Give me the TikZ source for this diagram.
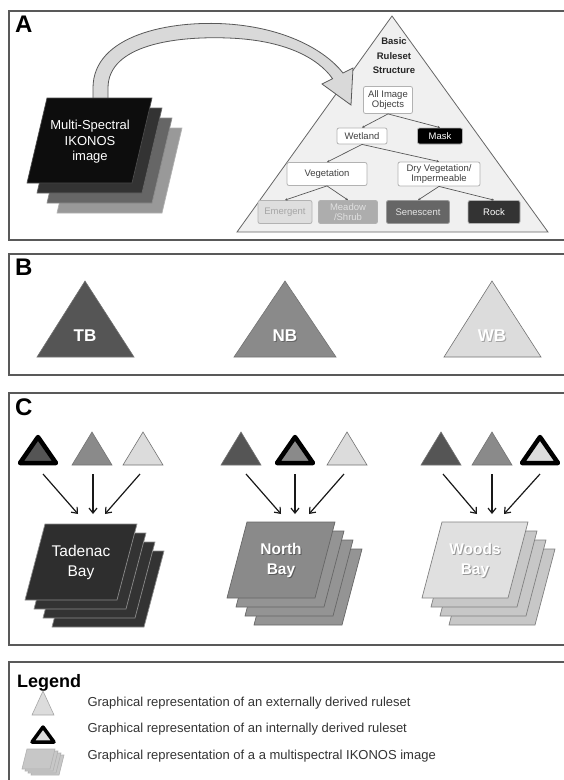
\documentclass[tikz,border=0pt]{standalone}
\usepackage{fontspec}
\setmainfont{Liberation Sans}
\usetikzlibrary{arrows.meta}
\definecolor{tdark}{HTML}{555555}
\definecolor{tmid}{HTML}{8A8A8A}
\definecolor{tlight}{HTML}{DCDCDC}
\newcommand\mypara[7]{\draw[fill=#6, draw=#7, line width=0.7pt] (#1,#2) -- ++(#3,0) -- ++(-#5,#4) -- ++(-#3,0) -- cycle;}
\begin{document}
\begin{tikzpicture}[x=1pt,y=-1pt]
\useasboundingbox (0,0) rectangle (564,780);
\clip (0,0) rectangle (564,780);
\tikzset{
 panel/.style={draw=black!65, line width=1.3pt},
 plabel/.style={font=\fontsize{24}{24}\selectfont\bfseries, anchor=north west, inner sep=0pt},
 tbox/.style={draw=black!30, rounded corners=2pt, fill=white, line width=0.8pt, font=\fontsize{9.5}{10.5}\selectfont, text=black!75, align=center, inner sep=1pt},
 tline/.style={draw=black!65, line width=0.7pt, -{Stealth[length=2.5pt,width=2.5pt]}},
 rtri/.style={draw=black!55, line width=0.6pt},
 inttri/.style={draw=black, line width=4.5pt, line join=round},
 carrow/.style={draw=black!90, line width=1.2pt, -{Straight Barb[length=5pt,width=8pt]}},
 btext/.style={font=\fontsize{17}{17}\selectfont\bfseries, text=white},
 stext/.style={font=\fontsize{15.5}{20}\selectfont, text=white, align=center},
 sbtext/.style={font=\fontsize{15.5}{20}\selectfont\bfseries, text=white, align=center},
 ltext/.style={font=\fontsize{13}{15}\selectfont, text=black!80, anchor=west}
}
% ---------------- Panel A
\draw[panel] (9,11) rectangle (580,240);
\node[plabel] (la) at (15,16) {A};
\draw[draw=black!60, fill=black!6, line width=0.8pt] (392,16) -- (548,232) -- (237,232) -- cycle;
\node[font=\fontsize{9.5}{14.5}\selectfont\bfseries, align=center, text=black!85] (title) at (394,56) {Basic\\Ruleset\\Structure};
\node[tbox, minimum width=49pt, minimum height=27pt] (all) at (388,100) {All Image\\Objects};
\node[tbox, minimum width=50pt, minimum height=16pt] (wet) at (362,136) {Wetland};
\node[tbox, minimum width=45pt, minimum height=16pt, fill=black, text=white] (mask) at (440,136) {Mask};
\node[tbox, minimum width=80pt, minimum height=23pt] (veg) at (327,174) {Vegetation};
\node[tbox, minimum width=82pt, minimum height=24pt] (dry) at (439,174) {Dry Vegetation/\\Impermeable};
\node[tbox, minimum width=54pt, minimum height=23pt, fill=black!13, text=black!35] (emer) at (285,212) {Emergent};
\node[tbox, minimum width=59pt, minimum height=23pt, fill=black!32, text=black!12] (mead) at (348,212) {Meadow\\/Shrub};
\node[tbox, minimum width=63pt, minimum height=23pt, fill=black!60, text=black!10, draw=black!40] (sen) at (418,212) {Senescent};
\node[tbox, minimum width=52pt, minimum height=23pt, fill=black!80, text=white] (rock) at (494,212) {Rock};
\draw[tline] (all.south) -- (wet.north);
\draw[tline] (all.south) -- (mask.north);
\draw[tline] (wet.south) -- (veg.north);
\draw[tline] (wet.south) -- (dry.north);
\draw[tline] (veg.south) -- (emer.north);
\draw[tline] (veg.south) -- (mead.north);
\draw[tline] (dry.south) -- (sen.north);
\draw[tline] (dry.south) -- (rock.north);
% curved fat arrow
\draw[fill=black!15, draw=black!65, line width=0.8pt, line join=miter]
 (93,100) -- (93,88) .. controls (93,35) and (170,20) .. (228,24)
 .. controls (285,28) and (325,50) .. (343,73) -- (353,68) -- (351,105) -- (322,84) -- (332.6,78.7)
 .. controls (318,58) and (285,40) .. (228,38)
 .. controls (175,36) and (108,45) .. (108,88) -- (108,100) -- cycle;
% image stack
\mypara{77}{128}{105}{85}{20}{black!40}{black!30}
\mypara{67}{118}{105}{85}{20}{black!60}{black!45}
\mypara{57}{108}{105}{85}{20}{black!80}{black!60}
\mypara{47}{98}{105}{85}{20}{black!95}{black!70}
\node[font=\fontsize{13}{15.5}\selectfont, text=white, align=center] (img) at (90,142) {Multi-Spectral\\IKONOS\\image};
% ---------------- Panel B
\draw[panel] (9,254) rectangle (580,375);
\node[plabel] (lb) at (15,259) {B};
\draw[rtri, fill=tdark] (85,281) -- (134,357) -- (37,357) -- cycle;
\draw[rtri, fill=tmid] (285,281) -- (336,357) -- (234,357) -- cycle;
\draw[rtri, fill=tlight] (492,281) -- (541,357) -- (444,357) -- cycle;
\node[btext] (tb) at (85,336) {TB};
\node[btext, text=black!60] at (286,337) {NB};
\node[btext] (nb) at (285,336) {NB};
\node[btext, text=black!35] at (493,337) {WB};
\node[btext] (wb) at (492,336) {WB};
% ---------------- Panel C
\draw[panel] (9,393) rectangle (580,645);
\node[plabel] (lc) at (15,399) {C};
% group 1
\draw[inttri, fill=tdark] (38,437) -- (56,463) -- (20,463) -- cycle;
\draw[rtri, fill=tmid] (92,432) -- (112,465) -- (72,465) -- cycle;
\draw[rtri, fill=tlight] (143,432) -- (163,465) -- (123,465) -- cycle;
% group 2
\draw[rtri, fill=tdark] (241,432) -- (261,465) -- (221,465) -- cycle;
\draw[inttri, fill=tmid] (295,437) -- (313,463) -- (277,463) -- cycle;
\draw[rtri, fill=tlight] (347,432) -- (367,465) -- (327,465) -- cycle;
% group 3
\draw[rtri, fill=tdark] (441,432) -- (461,465) -- (421,465) -- cycle;
\draw[rtri, fill=tmid] (492,432) -- (512,465) -- (472,465) -- cycle;
\draw[inttri, fill=tlight] (540,437) -- (558,463) -- (522,463) -- cycle;
% arrow coordinates
\coordinate (s11) at (43,474); \coordinate (e11) at (78,514);
\coordinate (s12) at (93,474); \coordinate (e12) at (93,514);
\coordinate (s13) at (140,474); \coordinate (e13) at (105,514);
\coordinate (s21) at (246,474); \coordinate (e21) at (281,514);
\coordinate (s22) at (295,474); \coordinate (e22) at (295,514);
\coordinate (s23) at (344,474); \coordinate (e23) at (309,514);
\coordinate (s31) at (443,474); \coordinate (e31) at (477,514);
\coordinate (s32) at (492,474); \coordinate (e32) at (492,514);
\coordinate (s33) at (540,474); \coordinate (e33) at (504,514);
\foreach \g in {1,2,3}{\foreach \k in {1,2,3}{\draw[carrow] (s\g\k) -- (e\g\k);}}
% stacks
\mypara{72}{551}{92}{76}{20}{black!80}{black!45}
\mypara{63}{542}{92}{76}{20}{black!80}{black!45}
\mypara{54}{533}{92}{76}{20}{black!80}{black!45}
\mypara{45}{524}{92}{76}{20}{black!82}{black!45}
\node[stext] (tad) at (81,562) {Tadenac\\Bay};
\mypara{274}{549}{88}{76}{20}{black!42}{black!60}
\mypara{265}{540}{88}{76}{20}{black!42}{black!60}
\mypara{256}{531}{88}{76}{20}{black!42}{black!60}
\mypara{247}{522}{88}{76}{20}{black!46}{black!60}
\node[sbtext, text=black!65] at (282,561) {North\\Bay};
\node[sbtext] (nbay) at (281,560) {North\\Bay};
\mypara{469}{549}{86}{76}{20}{black!22}{black!50}
\mypara{460}{540}{86}{76}{20}{black!22}{black!50}
\mypara{451}{531}{86}{76}{20}{black!22}{black!50}
\mypara{442}{522}{86}{76}{20}{black!12}{black!50}
\node[sbtext, text=black!40] at (476,561) {Woods\\Bay};
\node[sbtext] (wbay) at (475,560) {Woods\\Bay};
% ---------------- Legend
\draw[panel] (9,662) rectangle (580,800);
\node[font=\fontsize{18}{18}\selectfont\bfseries, anchor=west, inner sep=0pt] (leg) at (17,683) {Legend};
\draw[rtri, draw=black!35, fill=tlight] (43,691) -- (54,715) -- (32,715) -- cycle;
\node[ltext] (l1) at (84,703) {Graphical representation of an externally derived ruleset};
\draw[inttri, line width=3.5pt, fill=tlight] (43,727) -- (54,742) -- (32,742) -- cycle;
\node[ltext] (l2) at (84,729) {Graphical representation of an internally derived ruleset};
\mypara{36}{755}{28}{20}{5}{black!22}{black!30}
\mypara{33}{753}{28}{20}{5}{black!22}{black!30}
\mypara{30}{751}{28}{20}{5}{black!22}{black!30}
\mypara{27}{749}{28}{20}{5}{black!22}{black!30}
\node[ltext] (l3) at (84,756) {Graphical representation of a a multispectral IKONOS image};
\end{tikzpicture}
\end{document}
